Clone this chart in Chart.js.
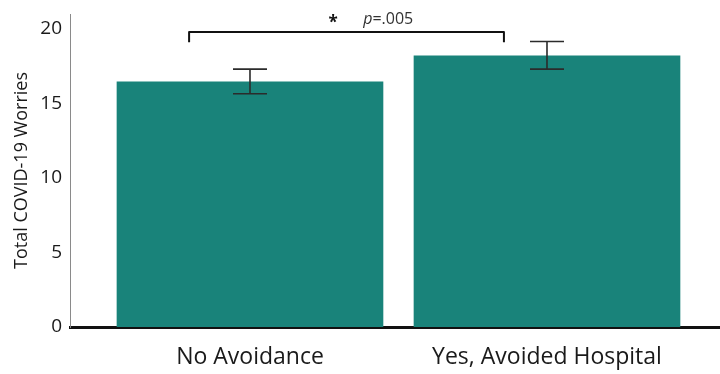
<!DOCTYPE html>
<html>
<head>
<meta charset="utf-8">
<script src="https://cdn.jsdelivr.net/npm/chart.js@4.4.1/dist/chart.umd.min.js"></script>
<style>
  html, body { margin: 0; padding: 0; background: #ffffff; }
  #wrap { width: 720px; height: 374px; position: relative; }
</style>
</head>
<body>
<div id="wrap"><canvas id="chart" width="720" height="374"></canvas></div>
<script>
// Group labels and mean scores with their error-bar limits
const categories = ['No Avoidance', 'Yes, Avoided Hospital'];
const meanWorries = [16.45, 18.2];
const errorLow = [15.65, 17.3];
const errorHigh = [17.3, 19.15];
const yTicks = [0, 5, 10, 15, 20];
const significance = { star: '*', pLabel: '=.005' };

const FONT = "'Open Sans', 'DejaVu Sans', sans-serif";
const TEAL = '#19837a';

// Error bars with caps, drawn on top of the bars
const errorBarPlugin = {
  id: 'errorBars',
  afterDatasetsDraw(chart) {
    const { ctx, scales: { x, y } } = chart;
    ctx.save();
    ctx.strokeStyle = '#2b2b2b';
    ctx.lineWidth = 1.6;
    const half = 17;
    categories.forEach((_, i) => {
      const px = x.getPixelForValue(i);
      const top = y.getPixelForValue(errorHigh[i]);
      const bot = y.getPixelForValue(errorLow[i]);
      ctx.beginPath();
      ctx.moveTo(px, top); ctx.lineTo(px, bot);
      ctx.moveTo(px - half, top); ctx.lineTo(px + half, top);
      ctx.moveTo(px - half, bot); ctx.lineTo(px + half, bot);
      ctx.stroke();
    });
    ctx.restore();
  }
};

// Significance bracket between the two groups
const bracketPlugin = {
  id: 'bracket',
  afterDraw(chart) {
    const { ctx, scales: { x, y } } = chart;
    const x0 = x.getPixelForValue(-0.205);
    const x1 = x.getPixelForValue(0.855);
    const yTop = y.getPixelForValue(19.8);
    const yEnd = y.getPixelForValue(19.1);
    ctx.save();
    ctx.strokeStyle = '#111';
    ctx.lineWidth = 2;
    ctx.lineJoin = 'round';
    ctx.beginPath();
    ctx.moveTo(x0, yEnd);
    ctx.lineTo(x0, yTop);
    ctx.lineTo(x1, yTop);
    ctx.lineTo(x1, yEnd);
    ctx.stroke();

    ctx.fillStyle = '#111';
    ctx.textBaseline = 'middle';
    ctx.textAlign = 'center';
    ctx.font = `bold 17px ${FONT}`;
    ctx.fillText(significance.star, x.getPixelForValue(0.28), yTop - 9);

    ctx.textAlign = 'left';
    ctx.fillStyle = '#333';
    ctx.font = `italic 16px ${FONT}`;
    const px = x.getPixelForValue(0.381);
    ctx.fillText('p', px, yTop - 12);
    const w = ctx.measureText('p').width;
    ctx.font = `16px ${FONT}`;
    ctx.fillText(significance.pLabel, px + w, yTop - 12);
    ctx.restore();
  }
};

new Chart(document.getElementById('chart'), {
  type: 'bar',
  data: {
    datasets: [{
      data: meanWorries.map((v, i) => ({ x: i, y: v })),
      backgroundColor: TEAL,
      borderWidth: 0,
      barThickness: 266
    }]
  },
  options: {
    responsive: false,
    animation: false,
    layout: { padding: { top: 14, right: 0, left: 0, bottom: 0 } },
    plugins: { legend: { display: false }, tooltip: { enabled: false } },
    scales: {
      x: {
        type: 'linear',
        offset: false,
        bounds: 'data',
        min: -0.606,
        max: 1.5825,
        grid: { display: false, drawTicks: false },
        border: { display: true, color: '#111', width: 3 },
        afterBuildTicks(scale) { scale.ticks = categories.map((_, i) => ({ value: i })); },
        afterFit(scale) {
          scale.height = 47;
          scale.paddingLeft = 0;
          scale.paddingRight = 0;
        },
        ticks: {
          padding: 17,
          color: '#1a1a1a',
          font: { family: FONT, size: 23 },
          maxRotation: 0,
          autoSkip: false,
          callback: (v) => categories[v] ?? ''
        }
      },
      y: {
        min: 0,
        max: 21,
        grid: { display: false, drawTicks: false },
        border: { display: true, color: '#8a8a8a', width: 1 },
        afterBuildTicks(scale) { scale.ticks = yTicks.map(v => ({ value: v })); },
        afterFit(scale) {
          scale.width = 70;
          scale.paddingTop = 0;
          scale.paddingBottom = 0;
        },
        ticks: {
          padding: 8,
          color: '#1a1a1a',
          font: { family: FONT, size: 19 }
        },
        title: {
          display: true,
          text: 'Total COVID-19 Worries',
          color: '#1a1a1a',
          font: { family: FONT, size: 18 },
          padding: { top: 11, bottom: 0 }
        }
      }
    }
  },
  plugins: [errorBarPlugin, bracketPlugin]
});
</script>
</body>
</html>
